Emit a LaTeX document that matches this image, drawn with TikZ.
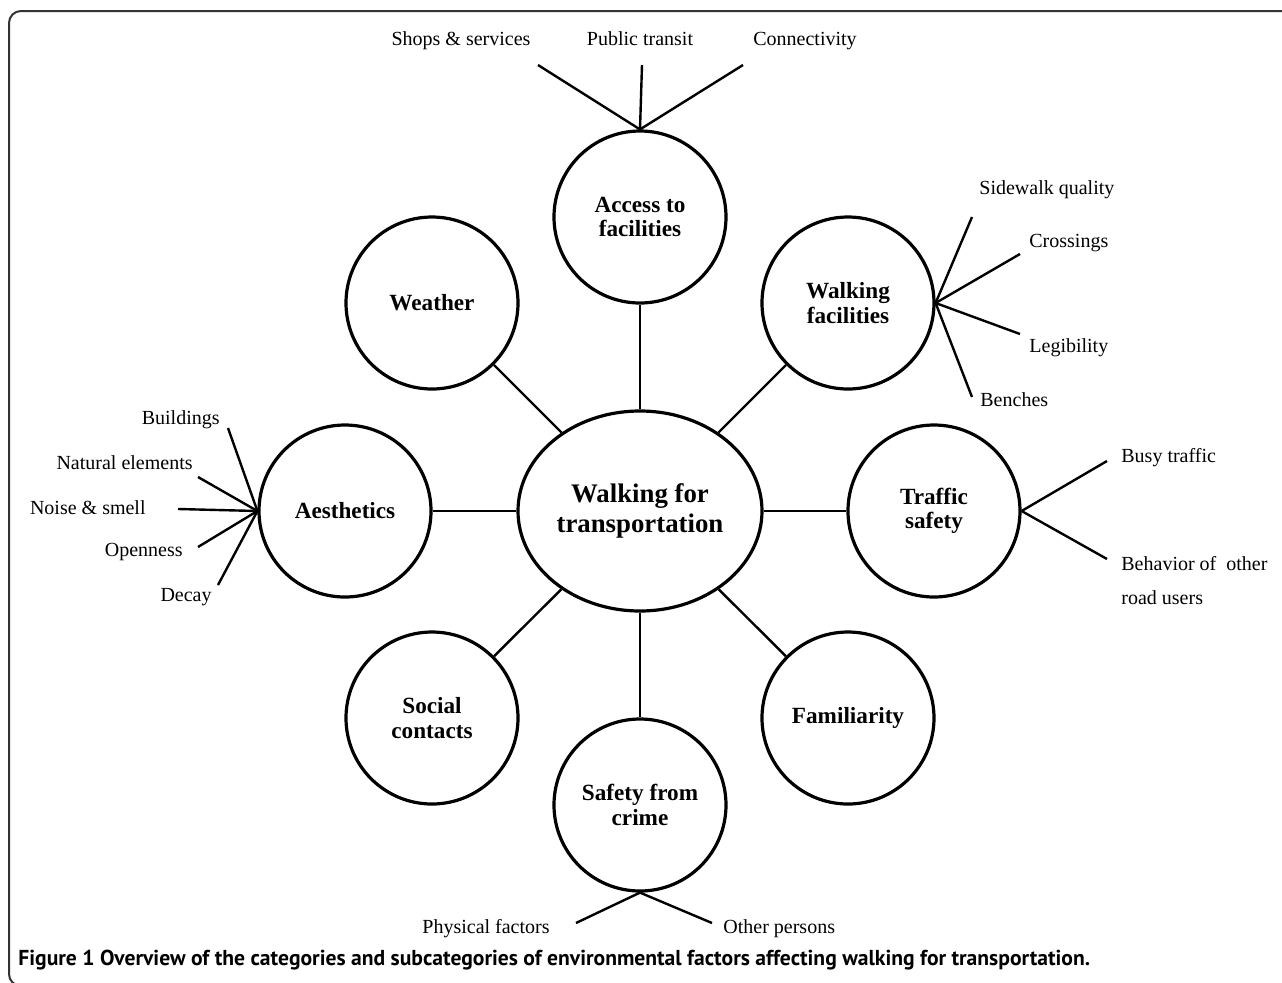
\documentclass[tikz,border=0pt]{standalone}
\usepackage{fontspec}
\setmainfont{Liberation Serif}
\newfontfamily\capfont{PT Sans}
\usetikzlibrary{shapes.geometric}
\tikzset{%
  hub/.style={ellipse, draw, line width=1.6pt, inner sep=0pt,
              minimum width=122pt, minimum height=100pt, align=center,
              font=\fontsize{13.4}{15}\selectfont\bfseries},
  cat/.style={circle, draw, line width=1.6pt, inner sep=0pt,
              minimum size=86pt, align=center,
              font=\fontsize{11.6}{12.3}\selectfont\bfseries},
  spoke/.style={line width=1.2pt},
  twig/.style={line width=1.2pt},
  sub/.style={inner sep=0pt, font=\fontsize{10}{12}\selectfont},
}

\begin{document}
\begin{tikzpicture}[x=0.5pt,y=-0.5pt]
  \useasboundingbox (0,0) rectangle (1282,982);
  % frame
  \draw[line width=1pt, black!80, rounded corners=6pt] (1290,11) -- (9,11) -- (9,986) -- (40,986);
  % hub and categories
  \node[hub] (H) at (640,511) {Walking for\\transportation};
  \node[cat] (acc) at (640,217) {Access to\\facilities};
  \node[cat] (wf) at (848,303) {Walking\\facilities};
  \node[cat] (wea) at (432,303) {Weather};
  \node[cat] (aes) at (345,511) {Aesthetics};
  \node[cat] (trf) at (934,511) {Traffic\\safety};
  \node[cat] (soc) at (432,718) {Social\\contacts};
  \node[cat] (fam) at (848,718) {Familiarity};
  \node[cat] (cri) at (640,805) {Safety from\\crime};
  \foreach \c in {acc,wf,wea,aes,trf,soc,fam,cri}
    \draw[spoke] (H) -- (\c);

  % access to facilities
  \coordinate (acc1) at (538,65);
  \coordinate (acc2) at (642,65);
  \coordinate (acc3) at (743,65);
  \node[sub, anchor=base] (lacc1) at (461,45) {Shops \& services};
  \node[sub, anchor=base] (lacc2) at (640,45) {Public transit};
  \node[sub, anchor=base] (lacc3) at (805,45) {Connectivity};
  \foreach \i in {1,2,3}
    \draw[twig] (acc.north) -- (acc\i);

  % walking facilities
  \coordinate (wf1) at (972,217);
  \coordinate (wf2) at (1020,254);
  \coordinate (wf3) at (1020,334);
  \coordinate (wf4) at (972,397);
  \node[sub, anchor=west] (lwf1) at (979,190) {Sidewalk quality};
  \node[sub, anchor=west] (lwf2) at (1029,243) {Crossings};
  \node[sub, anchor=west] (lwf3) at (1029,348) {Legibility};
  \node[sub, anchor=west] (lwf4) at (980,400) {Benches};
  \foreach \i in {1,...,4}
    \draw[twig] (wf.east) -- (wf\i);

  % aesthetics
  \coordinate (aes1) at (228,428);
  \coordinate (aes2) at (198,477);
  \coordinate (aes3) at (178,509);
  \coordinate (aes4) at (198,547);
  \coordinate (aes5) at (218,585);
  \node[sub, anchor=east] (laes1) at (220,420) {Buildings};
  \node[sub, anchor=east] (laes2) at (193,463) {Natural elements};
  \node[sub, anchor=east] (laes3) at (146,508) {Noise \& smell};
  \node[sub, anchor=east] (laes4) at (183,552) {Openness};
  \node[sub, anchor=east] (laes5) at (212,597) {Decay};
  \foreach \i in {1,...,5}
    \draw[twig] (aes.west) -- (aes\i);

  % traffic safety
  \coordinate (trf1) at (1107,461);
  \coordinate (trf2) at (1107,559);
  \node[sub, anchor=west] (ltrf1) at (1121,458) {Busy traffic};
  \node[sub, anchor=west, align=left, font=\fontsize{10}{17}\selectfont] (ltrf2) at (1121,581) {Behavior of\ \ other\\road users};
  \foreach \i in {1,2}
    \draw[twig] (trf.east) -- (trf\i);

  % safety from crime
  \coordinate (cri1) at (576,923);
  \coordinate (cri2) at (712,923);
  \node[sub, anchor=east] (lcri1) at (550,929) {Physical factors};
  \node[sub, anchor=west] (lcri2) at (723,929) {Other persons};
  \foreach \i in {1,2}
    \draw[twig] (cri.south) -- (cri\i);

  % caption
  \node[anchor=base west, inner sep=0pt, font=\capfont\bfseries\fontsize{10.8}{12}\selectfont] (cap) at (18,965)
    {Figure 1 Overview of the categories and subcategories of environmental factors affecting walking for transportation.};
\end{tikzpicture}
\end{document}
